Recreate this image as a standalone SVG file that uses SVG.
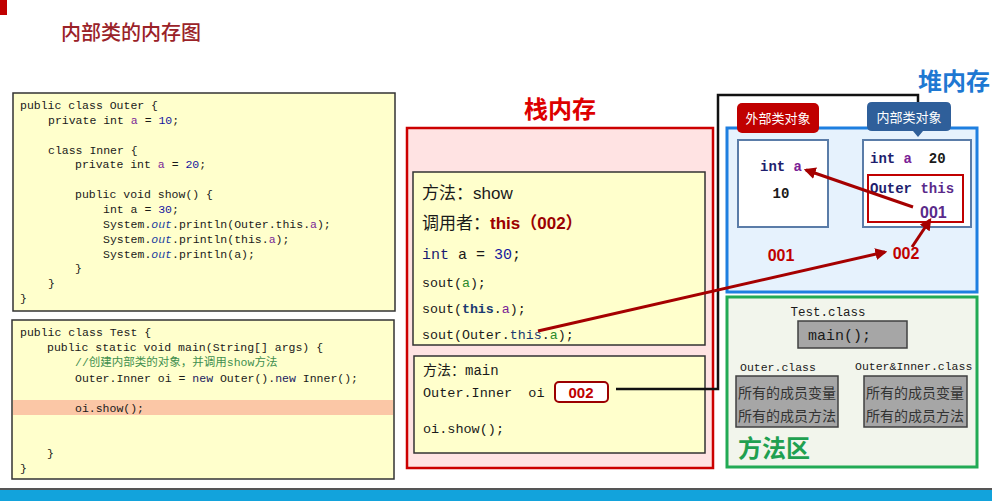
<svg xmlns="http://www.w3.org/2000/svg" width="992" height="501" viewBox="0 0 992 501">
<style>
.code{font-family:"Liberation Mono",monospace;font-size:11.5px;fill:#1a1a1a}
.num{fill:#1515a0}
.fld{fill:#7a1e96}
.out{fill:#2040a0;font-style:italic}
.cmt{fill:#3f8f4f;font-family:"Liberation Mono","Noto Sans CJK SC",monospace}
.kw{fill:#1a1a60}
.yel{fill:#ffffcc;stroke:#333;stroke-width:1.5}
.cn{font-family:"Liberation Sans","Noto Sans CJK SC",sans-serif}
.mono{font-family:"Liberation Mono","Noto Sans CJK SC",monospace}
.big{font-family:"Noto Sans CJK SC",sans-serif;font-size:24px;font-weight:bold}
.obj{fill:#ffffff;stroke:#5a7ca8;stroke-width:2}
.gray{fill:#a6a6a6;stroke:#404040;stroke-width:1.5}
.lbl{font-family:"Noto Sans CJK SC",sans-serif;font-size:13px;fill:#ffffff}
.arr{fill:none;stroke:#a50000;stroke-width:3}
</style>
<defs>
<marker id="ah" viewBox="0 0 10 10" refX="8" refY="5" markerWidth="4" markerHeight="4" orient="auto" markerUnits="strokeWidth">
<path d="M0,0 L10,5 L0,10 Z" fill="#a50000"/>
</marker>
</defs>
<rect x="0" y="0" width="992" height="501" fill="#ffffff"/>
<rect x="0" y="0" width="7" height="15" fill="#c00000"/>
<text x="61" y="40" font-family="Noto Sans CJK SC,sans-serif" font-size="20" font-weight="500" fill="#9a2228">内部类的内存图</text>

<g id="code-outer">
<rect x="13" y="93" width="382" height="218" class="yel"/>
<text class="code">
<tspan x="20" y="109">public class Outer {</tspan>
<tspan x="48" y="124">private int <tspan class="fld">a</tspan> = <tspan class="num">10</tspan>;</tspan>
<tspan x="48" y="154">class Inner {</tspan>
<tspan x="75" y="168">private int <tspan class="fld">a</tspan> = <tspan class="num">20</tspan>;</tspan>
<tspan x="75" y="198">public void show() {</tspan>
<tspan x="103" y="213">int a = <tspan class="num">30</tspan>;</tspan>
<tspan x="103" y="228">System.<tspan class="out">out</tspan>.println(Outer.this.<tspan class="fld">a</tspan>);</tspan>
<tspan x="103" y="243">System.<tspan class="out">out</tspan>.println(this.<tspan class="fld">a</tspan>);</tspan>
<tspan x="103" y="258">System.<tspan class="out">out</tspan>.println(a);</tspan>
<tspan x="75" y="272">}</tspan>
<tspan x="48" y="287">}</tspan>
<tspan x="20" y="302">}</tspan>
</text>
</g>

<g id="code-test">
<rect x="12" y="320" width="382" height="159" class="yel"/>
<rect x="13" y="400" width="380" height="15" fill="#fbc7a6"/>
<text class="code">
<tspan x="20" y="336">public class Test {</tspan>
<tspan x="47" y="351">public static void main(String[] args) {</tspan>
<tspan x="75" y="366" class="cmt">//创建内部类的对象，并调用show方法</tspan>
<tspan x="75" y="382">Outer.Inner oi = <tspan class="kw">new</tspan> Outer().<tspan class="kw">new</tspan> Inner();</tspan>
<tspan x="75" y="412">oi.show();</tspan>
<tspan x="47" y="457">}</tspan>
<tspan x="20" y="472">}</tspan>
</text>
</g>

<g id="stack">
<text x="560" y="118" text-anchor="middle" class="big" fill="#dd0000">栈内存</text>
<rect x="407" y="128" width="306" height="340" fill="#ffe3e3" stroke="#cc0000" stroke-width="2.5"/>
</g>

<g id="frame-show">
<rect x="413" y="172" width="292" height="173" class="yel"/>
<text x="422" y="199" class="cn" font-size="17" fill="#1a1a1a">方法：show</text>
<text x="422" y="229" class="cn" font-size="17" fill="#1a1a1a">调用者：<tspan fill="#9b0000" font-weight="bold">this（002）</tspan></text>
<text x="422" y="259" class="mono" font-size="15" fill="#1a1a1a"><tspan fill="#1a1a70">int</tspan> a = <tspan fill="#1515a0">30</tspan>;</text>
<text x="422" y="287" class="mono" font-size="13.3" fill="#1a1a1a">sout(<tspan fill="#2a8a2a">a</tspan>);</text>
<text x="422" y="313" class="mono" font-size="13.3" fill="#1a1a1a">sout(<tspan fill="#1a3a70" font-weight="bold">this</tspan>.<tspan fill="#7a1e96">a</tspan>);</text>
<text x="422" y="339" class="mono" font-size="13.3" fill="#1a1a1a">sout(Outer.<tspan fill="#1a3a70">this</tspan>.<tspan fill="#2a8a2a">a</tspan>);</text>
</g>

<g id="frame-main">
<rect x="414" y="356" width="291" height="97" class="yel"/>
<text x="423" y="375" class="cn" font-size="14" fill="#1a1a1a">方法：<tspan class="mono">main</tspan></text>
<text x="423" y="397" class="mono" font-size="13.5" fill="#1a1a1a" xml:space="preserve">Outer.Inner  oi</text>
<rect x="555" y="382" width="53" height="20" rx="4" fill="#ffffff" stroke="#9b0000" stroke-width="2"/>
<text x="581" y="398" text-anchor="middle" class="cn" font-size="15" font-weight="bold" fill="#c00000">002</text>
<text x="423" y="433" class="mono" font-size="13.5" fill="#1a1a1a">oi.show();</text>
</g>

<g id="heap">
<text x="954" y="90" text-anchor="middle" class="big" fill="#1e78d2">堆内存</text>
<rect x="727" y="128" width="250" height="164" fill="#e6f2fd" stroke="#1e7fe0" stroke-width="3"/>
<text x="781" y="261" text-anchor="middle" class="cn" font-size="16" font-weight="bold" fill="#c00000">001</text>
<text x="906" y="259" text-anchor="middle" class="cn" font-size="16" font-weight="bold" fill="#c00000">002</text>
</g>

<g id="outer-object">
<rect x="738" y="140" width="90" height="87" class="obj"/>
<text x="781" y="171" text-anchor="middle" class="mono" font-size="14" font-weight="bold" fill="#1e1e6e">int <tspan fill="#7a1e96">a</tspan></text>
<text x="781" y="198" text-anchor="middle" class="mono" font-size="14" font-weight="bold" fill="#1a1a1a">10</text>
<rect x="737" y="103" width="82" height="30" rx="5" fill="#c00000"/>
<text x="778" y="123" text-anchor="middle" class="lbl">外部类对象</text>
</g>

<g id="inner-object">
<rect x="863" y="140" width="108" height="87" class="obj"/>
<text x="870" y="163" class="mono" font-size="14" font-weight="bold" fill="#1e1e6e" xml:space="preserve">int <tspan fill="#7a1e96">a</tspan>  <tspan fill="#1a1a1a">20</tspan></text>
<rect x="868" y="175" width="95" height="47" fill="none" stroke="#c00000" stroke-width="2"/>
<text x="870" y="193" class="mono" font-size="14" font-weight="bold" fill="#1e1e6e">Outer <tspan fill="#5a2a8a">this</tspan></text>
<text x="920" y="218" class="cn" font-size="16" font-weight="bold" fill="#5a2a8a">001</text>
<path d="M872,102 H946 Q951,102 951,107 V126 Q951,131 946,131 H923 L918,137 L913,131 H872 Q867,131 867,126 V107 Q867,102 872,102 Z" fill="#2f5f9a"/>
<text x="909" y="122" text-anchor="middle" class="lbl">内部类对象</text>
</g>

<g id="method-area">
<rect x="727" y="297" width="250" height="170" fill="#f2f5ec" stroke="#22aa55" stroke-width="3"/>
<text x="738" y="457" class="big" fill="#1fa050">方法区</text>
</g>

<g id="test-class">
<text x="828" y="316" text-anchor="middle" class="mono" font-size="12.5" fill="#1a1a1a">Test.class</text>
<rect x="798" y="321" width="109" height="27" class="gray"/>
<text x="808" y="340" class="mono" font-size="15" fill="#1a1a1a">main();</text>
</g>

<g id="outer-class">
<text x="740" y="371" class="mono" font-size="11.5" fill="#1a1a1a">Outer.class</text>
<rect x="736" y="376" width="102" height="51" class="gray"/>
<text x="738" y="398" class="cn" font-size="14" fill="#333333">所有的成员变量</text>
<text x="738" y="421" class="cn" font-size="14" fill="#333333">所有的成员方法</text>
</g>

<g id="outer-inner-class">
<text x="855" y="370" class="mono" font-size="11.5" fill="#1a1a1a">Outer&amp;Inner.class</text>
<rect x="864" y="376" width="103" height="51" class="gray"/>
<text x="866" y="398" class="cn" font-size="14" fill="#333333">所有的成员变量</text>
<text x="866" y="421" class="cn" font-size="14" fill="#333333">所有的成员方法</text>
</g>

<g id="connectors">
<polyline points="616,389 718,389 718,95 918,95 918,102" fill="none" stroke="#111111" stroke-width="2.5"/>
<line x1="538" y1="331" x2="885" y2="252" class="arr" marker-end="url(#ah)"/>
<line x1="912" y1="247" x2="930" y2="220" class="arr" marker-end="url(#ah)"/>
<line x1="913" y1="207" x2="806" y2="170" class="arr" marker-end="url(#ah)"/>
</g>

<rect x="0" y="488" width="992" height="2" fill="#555555"/>
<rect x="0" y="490" width="992" height="11" fill="#12a3dc"/>
</svg>
